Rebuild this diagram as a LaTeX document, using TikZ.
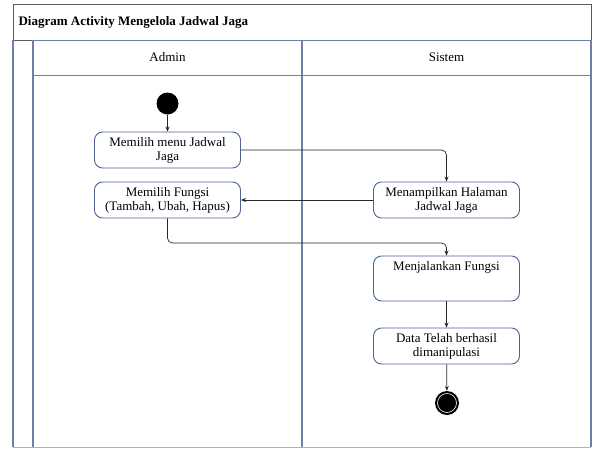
\documentclass[tikz,border=0pt]{standalone}
\usepackage{fontspec}
\setmainfont{Liberation Serif}
\usetikzlibrary{arrows.meta}
\definecolor{frame}{HTML}{5A5A5A}
\definecolor{lane}{HTML}{6E7EA6}
\definecolor{nodeb}{HTML}{4A6591}
\begin{document}
\begin{tikzpicture}[x=1pt,y=-1pt,
  act/.style={draw=nodeb, line width=0.9pt, rounded corners=8pt, fill=white,
    minimum width=146pt, minimum height=36pt, align=center, inner sep=3pt,
    font=\fontsize{13}{14}\selectfont},
  flow/.style={draw=black!85, line width=0.7pt, rounded corners=5pt,
    -{Stealth[length=5pt,width=4pt]}},
  lbl/.style={font=\fontsize{13}{14}\selectfont}]
\useasboundingbox (0,0) rectangle (598,448);
% pool frame
\draw[frame, line width=0.9pt] (13,4) rectangle (591,40);
\draw[lane!60, line width=0.9pt] (13,447) -- (591,447);
\draw[lane, line width=1.1pt] (13,40) -- (13,447);
\draw[lane, line width=1.1pt] (33,40) -- (33,447);
\draw[lane, line width=1.1pt] (302,40) -- (302,447);
\draw[lane, line width=1.1pt] (591,40) -- (591,447);
\draw[lane, line width=0.9pt] (33,75) -- (591,75);
\draw[lane, line width=0.9pt] (33,40) -- (591,40);
\node[anchor=west, font=\fontsize{13}{14}\selectfont\bfseries] (title) at (15,22) {Diagram Activity Mengelola Jadwal Jaga};
\node[lbl] (admin) at (167.5,57.5) {Admin};
\node[lbl] (sistem) at (446.5,57.5) {Sistem};
% nodes
\node[circle, fill=black, minimum size=22pt, inner sep=0pt] (start) at (167.5,103.5) {};
\node[act] (menu) at (167.5,150) {Memilih menu Jadwal\\Jaga};
\node[act] (fungsi) at (167.5,200) {Memilih Fungsi\\(Tambah, Ubah, Hapus)};
\node[act] (tampil) at (446.5,200) {Menampilkan Halaman\\Jadwal Jaga};
\node[act, minimum height=45pt, text height=9pt, text depth=26pt] (jalan) at (446.5,278.5) {Menjalankan Fungsi};
\node[act] (data) at (446.5,346) {Data Telah berhasil\\dimanipulasi};
\node[circle, fill=black, minimum size=24pt, inner sep=0pt] (end) at (447,403) {};
\draw[white, line width=0.6pt] (end.center) circle (9.5pt);
% flows
\draw[flow] (start) -- (menu);
\draw[flow] (menu.east) -| (tampil.north);
\draw[flow] (tampil.west) -- (fungsi.east);
\draw[flow] (fungsi.south) |- (305,243) -| (jalan.north);
\draw[flow] (jalan) -- (data);
\draw[flow] (data) -- (end);
\end{tikzpicture}
\end{document}
